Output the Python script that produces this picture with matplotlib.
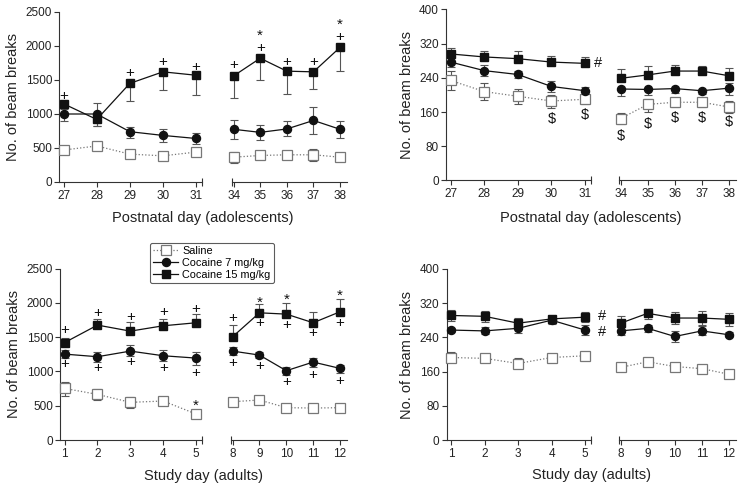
import matplotlib
matplotlib.use("Agg")
import matplotlib.pyplot as plt
import numpy as np

plt.rcParams['font.family'] = ['Liberation Sans', 'DejaVu Sans']

# ---------------- data ----------------
adol_days_a = [27, 28, 29, 30, 31]
adol_days_b = [34, 35, 36, 37, 38]
adult_days_a = [1, 2, 3, 4, 5]
adult_days_b = [8, 9, 10, 11, 12]

# Top-left: adolescents, beam breaks
tl_sal = [470, 530, 410, 385, 440, 365, 390, 400, 400, 365]
tl_sal_hi = [510, 570, 440, 410, 500, 443, 410, 430, 478, 390]
tl_sal_lo = [430, 500, 380, 360, 380, 280, 370, 370, 315, 340]
tl_c7 = [1000, 1000, 740, 685, 640, 775, 730, 780, 905, 775]
tl_c7_hi = [1084, 1167, 813, 783, 720, 911, 833, 890, 1099, 900]
tl_c7_lo = [901, 823, 645, 591, 560, 626, 616, 680, 709, 640]
tl_c15 = [1150, 920, 1450, 1620, 1570, 1560, 1820, 1630, 1620, 1980]
tl_c15_hi = [1150, 920, 1450, 1620, 1570, 1560, 1820, 1630, 1620, 1980]
tl_c15_lo = [1080, 830, 1185, 1352, 1276, 1232, 1502, 1290, 1365, 1626]

# Top-right: adolescents
tr_sal = [234, 208, 197, 186, 190, 145, 178, 183, 183, 172]
tr_sal_hi = [256, 229, 215, 201, 202, 158, 190, 193, 194, 185]
tr_sal_lo = [211, 188, 178, 169, 178, 131, 161, 173, 172, 158]
tr_c7 = [277, 257, 248, 220, 210, 214, 213, 215, 210, 216]
tr_c7_hi = [288, 270, 257, 232, 219, 214, 213, 215, 210, 228]
tr_c7_lo = [266, 245, 239, 208, 202, 198, 201, 205, 203, 200]
tr_c15 = [296, 289, 285, 277, 274, 239, 247, 256, 256, 245]
tr_c15_hi = [309, 303, 303, 292, 288, 260, 268, 270, 267, 264]
tr_c15_lo = [296, 289, 285, 277, 274, 239, 247, 256, 256, 245]

# Bottom-left: adults, beam breaks
bl_sal = [752, 665, 549, 568, 379, 558, 583, 471, 466, 471]
bl_sal_hi = [850, 740, 620, 620, 410, 580, 630, 510, 500, 530]
bl_sal_lo = [640, 590, 470, 520, 350, 540, 530, 430, 420, 420]
bl_c7 = [1252, 1214, 1296, 1228, 1194, 1296, 1238, 1010, 1136, 1044]
bl_c7_hi = [1310, 1290, 1380, 1310, 1290, 1350, 1280, 1070, 1200, 1090]
bl_c7_lo = [1190, 1140, 1220, 1150, 1090, 1240, 1190, 950, 1060, 980]
bl_c15 = [1420, 1675, 1587, 1665, 1709, 1505, 1854, 1835, 1709, 1869]
bl_c15_hi = [1490, 1760, 1720, 1770, 1840, 1670, 1981, 1990, 1859, 2053]
bl_c15_lo = [1420, 1675, 1587, 1665, 1709, 1505, 1854, 1835, 1709, 1869]

# Bottom-right: adults
br_sal = [193, 191, 179, 193, 197, 170, 183, 172, 167, 154]
br_sal_hi = [205, 198, 191, 201, 200, 174, 188, 175, 170, 161]
br_sal_lo = [182, 184, 168, 185, 195, 166, 178, 169, 164, 147]
br_c7 = [257, 255, 261, 280, 257, 255, 261, 242, 255, 246]
br_c7_hi = [261, 263, 272, 288, 268, 265, 269, 254, 266, 252]
br_c7_lo = [253, 247, 250, 272, 246, 245, 253, 230, 245, 240]
br_c15 = [291, 289, 273, 283, 287, 273, 296, 285, 285, 282]
br_c15_hi = [304, 302, 286, 287, 299, 289, 307, 300, 302, 297]
br_c15_lo = [278, 276, 262, 277, 276, 257, 283, 270, 268, 266]

# Significance marks: (day, y, symbol); stacked marks share one label
tl_marks = [(27, 1266, '+'), (29, 1601, '+'), (30, 1768, '+'), (31, 1695, '+'),
            (34, 1719, '+'), (35, 2060, '*\n+'), (36, 1759, '+'),
            (37, 1759, '+'), (38, 2220, '*\n+')]
tr_marks = [(30, 145, '$'), (31, 154, '$'), (34, 104, '$'), (35, 131, '$'),
            (36, 147, '$'), (37, 147, '$'), (38, 136, '$'), (31.38, 274, '#')]
bl_marks = [(1, 1602, '+'), (2, 1854, '+'), (3, 1796, '+'), (4, 1864, '+'), (5, 1913, '+'),
            (8, 1772, '+'), (9, 2039, '*'), (9, 1709, '+'), (10, 2087, '*'), (10, 1675, '+'),
            (11, 1553, '+'), (12, 2136, '*'), (12, 1709, '+'),
            (1, 1107, '+'), (2, 1053, '+'), (3, 1131, '+'), (4, 1053, '+'), (5, 981, '+'),
            (8, 1126, '+'), (9, 1073, '+'), (10, 850, '+'), (11, 947, '+'), (12, 864, '+'),
            (5, 534, '*')]
br_marks = [(5.5, 290, '#'), (5.5, 252, '#')]

labels = ['Saline', 'Cocaine 7 mg/kg', 'Cocaine 15 mg/kg']
xlabel_top = 'Postnatal day (adolescents)'
xlabel_bottom = 'Study day (adults)'
ylabel = 'No. of beam breaks'

# ---------------- style ----------------
W, H = 741, 486
fig = plt.figure(figsize=(W / 100, H / 100), dpi=100)

LINE_C = '#111111'
ERR_C = '#555555'
SAL_C = '#777777'
SPINE_C = '#333333'


def px_axes(x0, x1, ytop, ybot):
    return fig.add_axes([x0 / W, 1 - ybot / H, (x1 - x0) / W, (ybot - ytop) / H])


def style_axes(ax, first, yticks, ylim, days, xlim):
    ax.set_xlim(*xlim)
    ax.set_ylim(*ylim)
    ax.set_xticks(days)
    ax.set_xticks([xlim[1]] if first else [xlim[0]], minor=True)
    ax.tick_params(axis='x', which='minor', direction='inout', length=6, width=0.8, color=SPINE_C)
    ax.tick_params(axis='x', which='major', direction='out', length=3.5, width=0.8,
                   color=SPINE_C, labelsize=8.5, pad=2, labelcolor='#222222')
    for s in ['top', 'right']:
        ax.spines[s].set_visible(False)
    ax.spines['bottom'].set_color(SPINE_C)
    ax.spines['bottom'].set_linewidth(0.8)
    if first:
        ax.set_yticks(yticks)
        ax.spines['left'].set_color(SPINE_C)
        ax.spines['left'].set_linewidth(0.8)
        ax.tick_params(axis='y', direction='out', length=3.5, width=0.8, color=SPINE_C,
                       labelsize=8.5, pad=1.5, labelcolor='#222222')
        ax.set_ylabel(ylabel, fontsize=10.5, labelpad=4, color='#222222')
    else:
        ax.spines['left'].set_visible(False)
        ax.set_yticks([])
    ax.patch.set_alpha(0)


def draw_series(ax, days, sl, sal, sal_lo, sal_hi, c7, c7_lo, c7_hi, c15, c15_lo, c15_hi):
    handles = []
    for vals, lo, hi, kind in [(sal, sal_lo, sal_hi, 's'), (c7, c7_lo, c7_hi, 'c7'),
                               (c15, c15_lo, c15_hi, 'c15')]:
        m = np.array(vals[sl], dtype=float)
        yl = m - np.array(lo[sl], dtype=float)
        yh = np.array(hi[sl], dtype=float) - m
        ax.errorbar(days, m, yerr=[yl, yh], fmt='none', ecolor=ERR_C, elinewidth=0.8,
                    capsize=3, capthick=0.8, zorder=1)
        if kind == 's':
            h, = ax.plot(days, m, linestyle=':', color=SAL_C, lw=0.9, marker='s',
                         markersize=6.5, markerfacecolor='white', markeredgecolor=SAL_C,
                         markeredgewidth=0.9, zorder=3)
        elif kind == 'c7':
            h, = ax.plot(days, m, linestyle='-', color=LINE_C, lw=0.9, marker='o',
                         markersize=5.8, markerfacecolor=LINE_C, markeredgecolor=LINE_C, zorder=3)
        else:
            h, = ax.plot(days, m, linestyle='-', color=LINE_C, lw=0.9, marker='s',
                         markersize=6.3, markerfacecolor=LINE_C, markeredgecolor=LINE_C, zorder=3)
        handles.append(h)
    return handles


def draw_marks(ax_a, ax_b, marks, split):
    for d, y, sym in marks:
        ax = ax_a if d < split else ax_b
        txt = r'\$' if sym == '$' else sym
        fs = 11 if sym[0] in '+*' else 10.5
        dy = -2 if sym == '*' else 0
        ax.annotate(txt, (d, y), xytext=(0, dy), textcoords='offset points',
                    ha='center', va='center', fontsize=fs, color='#111111', zorder=4,
                    linespacing=0.78, multialignment='center', annotation_clip=False)


panels = [
    dict(xa=(59, 202), xb=(232, 347), yt=12, yb=182, da=adol_days_a, db=adol_days_b,
         yticks=np.arange(0, 2501, 500), ylim=(0, 2500),
         data=(tl_sal, tl_sal_lo, tl_sal_hi, tl_c7, tl_c7_lo, tl_c7_hi, tl_c15, tl_c15_lo, tl_c15_hi),
         marks=tl_marks, split=32.5, xlabel=xlabel_top, xly=218),
    dict(xa=(446, 591), xb=(619, 736), yt=9.5, yb=180.5, da=adol_days_a, db=adol_days_b,
         yticks=np.arange(0, 401, 80), ylim=(0, 400),
         data=(tr_sal, tr_sal_lo, tr_sal_hi, tr_c7, tr_c7_lo, tr_c7_hi, tr_c15, tr_c15_lo, tr_c15_hi),
         marks=tr_marks, split=32.5, xlabel=xlabel_top, xly=218),
    dict(xa=(60, 202), xb=(231, 347), yt=268.5, yb=440, da=adult_days_a, db=adult_days_b,
         yticks=np.arange(0, 2501, 500), ylim=(0, 2500),
         data=(bl_sal, bl_sal_lo, bl_sal_hi, bl_c7, bl_c7_lo, bl_c7_hi, bl_c15, bl_c15_lo, bl_c15_hi),
         marks=bl_marks, split=6.5, xlabel=xlabel_bottom, xly=476),
    dict(xa=(446.5, 591), xb=(619, 736), yt=268.7, yb=440.3, da=adult_days_a, db=adult_days_b,
         yticks=np.arange(0, 401, 80), ylim=(0, 400),
         data=(br_sal, br_sal_lo, br_sal_hi, br_c7, br_c7_lo, br_c7_hi, br_c15, br_c15_lo, br_c15_hi),
         marks=br_marks, split=6.5, xlabel=xlabel_bottom, xly=475),
]

legend_handles = None
for p in panels:
    ax_a = px_axes(p['xa'][0], p['xa'][1], p['yt'], p['yb'])
    ax_b = px_axes(p['xb'][0], p['xb'][1], p['yt'], p['yb'])
    da, db = p['da'], p['db']
    style_axes(ax_a, True, p['yticks'], p['ylim'], da, (da[0] - 0.14, da[-1] + 0.18))
    style_axes(ax_b, False, p['yticks'], p['ylim'], db, (db[0] - 0.06, db[-1] + 0.26))
    d = p['data']
    h = draw_series(ax_a, da, slice(0, 5), *d)
    draw_series(ax_b, db, slice(5, 10), *d)
    draw_marks(ax_a, ax_b, p['marks'], p['split'])
    for ax in (ax_a, ax_b):
        for ln in ax.lines:
            ln.set_clip_on(False)
    xc = (p['xa'][0] + p['xb'][1]) / 2 / W
    fig.text(xc, 1 - p['xly'] / H, p['xlabel'], ha='center', va='center', fontsize=10.5,
             color='#222222')
    if legend_handles is None:
        legend_handles = h

leg = fig.legend(legend_handles, labels, loc='upper left', bbox_to_anchor=(150 / W, 1 - 243 / H),
                 fontsize=7.8, frameon=True, fancybox=True, edgecolor='#333333',
                 handlelength=2.3, handletextpad=0.4, labelspacing=0.15, borderpad=0.3,
                 borderaxespad=0)
leg.get_frame().set_linewidth(0.8)

fig.savefig('out.png', dpi=100)
